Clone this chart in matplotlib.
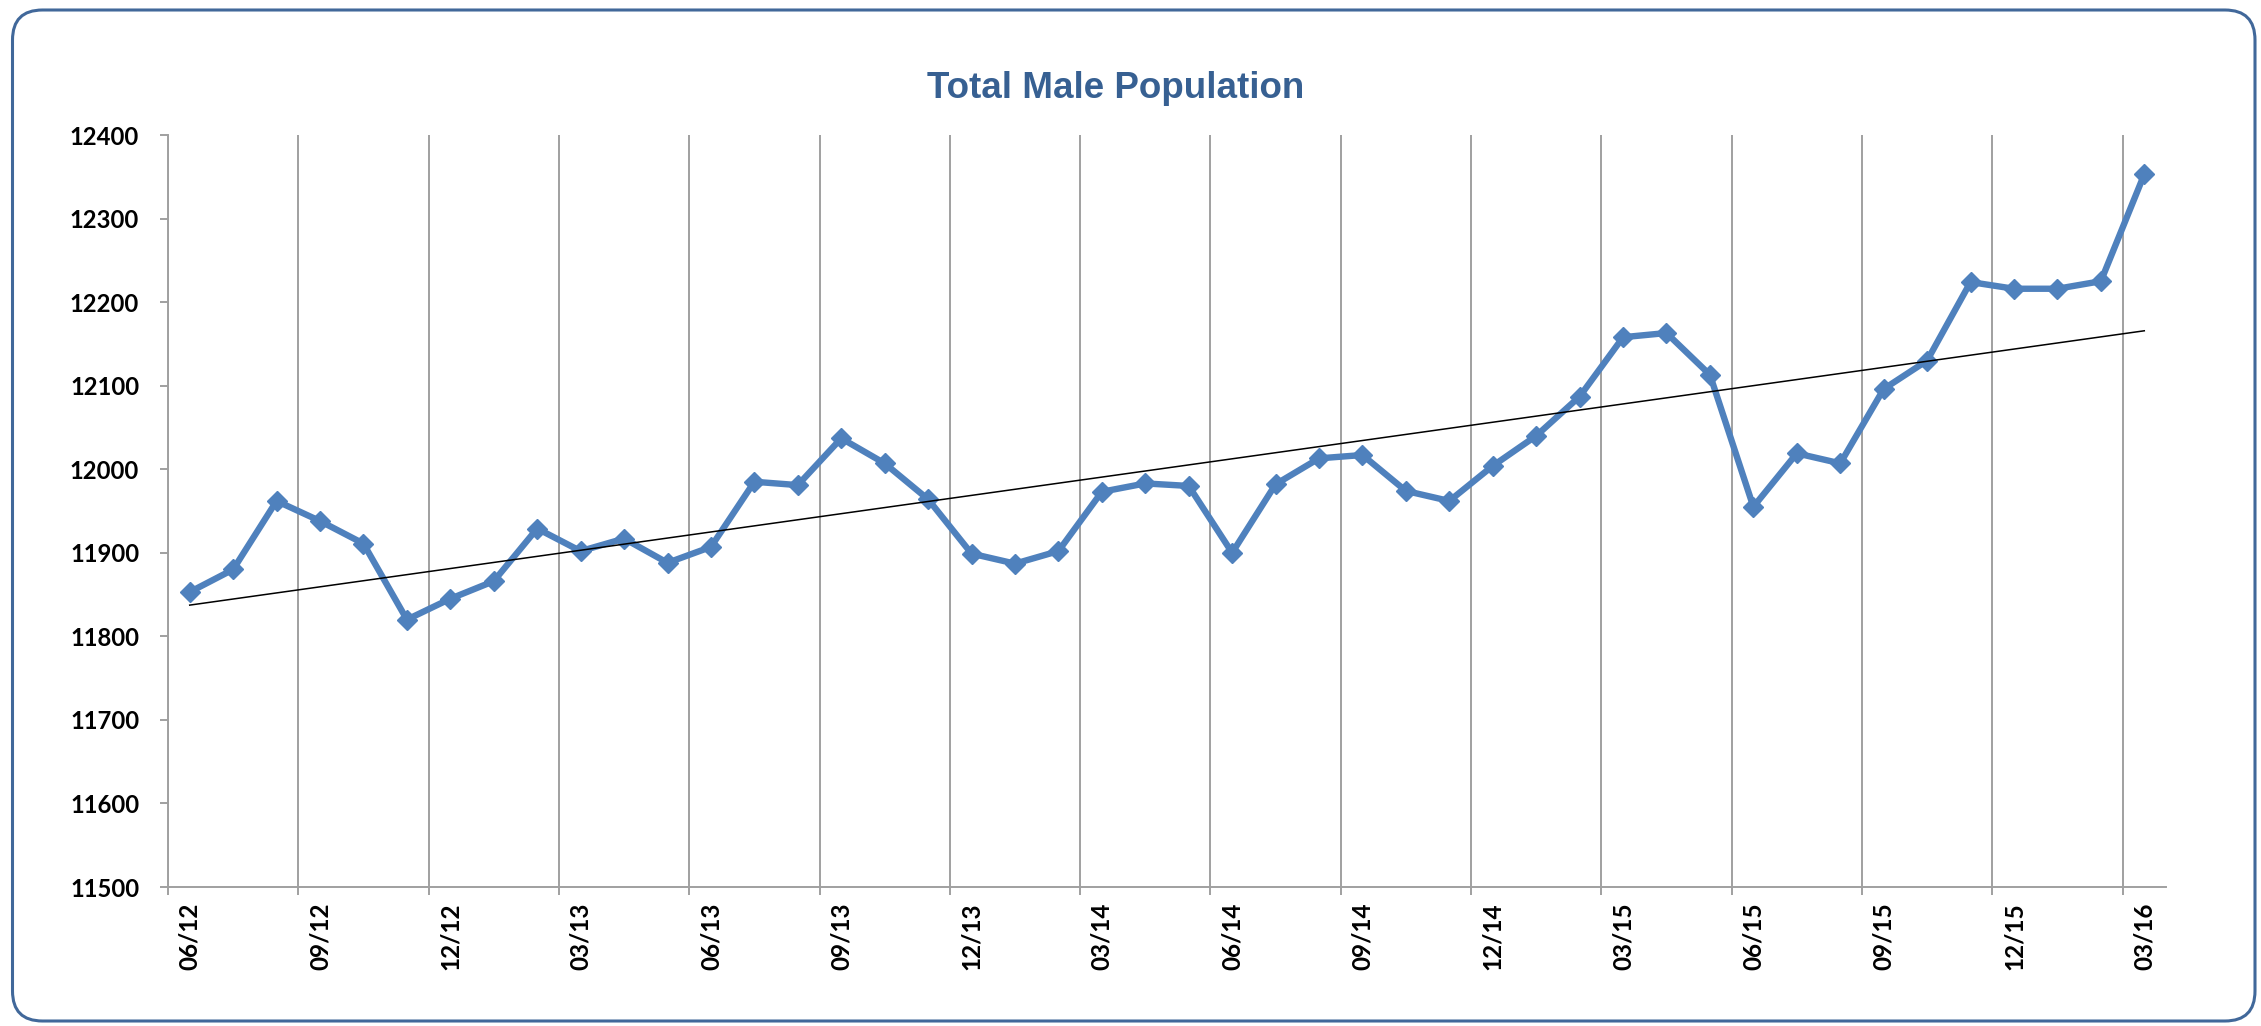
import matplotlib
matplotlib.use("Agg")
import matplotlib.pyplot as plt
from matplotlib.patches import FancyBboxPatch
import numpy as np

# Total male population, monthly 06/12 .. 03/16 (46 values)
populacao = [11853, 11880, 11962, 11938, 11911, 11820, 11845, 11866, 11929, 11902,
             11917, 11888, 11907, 11985, 11981, 12037, 12007, 11964, 11899, 11887,
             11902, 11973, 11983, 11980, 11900, 11982, 12013, 12017, 11974, 11962,
             12004, 12040, 12087, 12158, 12163, 12113, 11955, 12019, 12007, 12096,
             12130, 12224, 12216, 12216, 12225, 12353]

# rótulos trimestrais do eixo x
rotulos = ['06/12', '09/12', '12/12', '03/13', '06/13', '09/13', '12/13', '03/14',
           '06/14', '09/14', '12/14', '03/15', '06/15', '09/15', '12/15', '03/16']

y_ticks = [11500, 11600, 11700, 11800, 11900, 12000, 12100, 12200, 12300, 12400]

cor_linha = '#4F81BD'
cor_borda = '#41689A'
cor_titulo = '#376092'
cor_eixo = '#A0A0A0'

n = len(populacao)
x = np.arange(n)

# linha de tendência linear (como no Excel)
coef = np.polyfit(x, populacao, 1)
tendencia = np.polyval(coef, x)

fig = plt.figure(figsize=(22.61, 10.26), dpi=100)
ax = fig.add_axes([168/2261, 1 - 887/1026, (2166-168)/2261, (887-135)/1026])

ax.plot(x, populacao, color=cor_linha, lw=4.6, marker='D', markersize=10.5,
        markeredgecolor=cor_linha, markerfacecolor=cor_linha, zorder=3)
ax.plot(x, tendencia, color='black', lw=1.1, zorder=4)

ax.set_xlim(-0.5, n - 0.5)
ax.set_ylim(y_ticks[0], y_ticks[-1])
ax.set_yticks(y_ticks)

# gridlines/ticks nos limites das categorias, rótulos no centro
pos_lbl = np.arange(0, n, 3)
ax.set_xticks(pos_lbl - 0.5)
ax.set_xticklabels([])
ax.set_xticks(pos_lbl, minor=True)
ax.set_xticklabels(rotulos, minor=True, rotation=90, fontsize=17.5,
                   fontweight='bold', family='Lato')
ax.tick_params(axis='x', which='major', direction='out', length=5.8,
               width=1.4, color=cor_eixo)
ax.tick_params(axis='x', which='minor', length=0, pad=11)
ax.tick_params(axis='y', direction='out', length=5.8, width=1.4,
               color=cor_eixo, pad=15)
for lbl in ax.get_yticklabels():
    lbl.set_fontsize(17.2)
    lbl.set_fontweight('bold')
    lbl.set_family('Lato')

ax.grid(True, axis='x', which='major', color=cor_eixo, lw=1.4)
for s in ['top', 'right']:
    ax.spines[s].set_visible(False)
for s in ['left', 'bottom']:
    ax.spines[s].set_color(cor_eixo)
    ax.spines[s].set_linewidth(1.4)

fig.text(1116/2261, 1 - 89/1026, 'Total Male Population', ha='center', va='center',
         fontsize=26.5, fontweight='bold', color=cor_titulo, family='Liberation Sans')

# borda arredondada do gráfico
borda = FancyBboxPatch((0.125, 0.05), 22.425, 10.11,
                       boxstyle='round,pad=0,rounding_size=0.3',
                       transform=fig.dpi_scale_trans, fill=False,
                       edgecolor=cor_borda, lw=2.2)
fig.add_artist(borda)

fig.savefig('out.png', dpi=100)
